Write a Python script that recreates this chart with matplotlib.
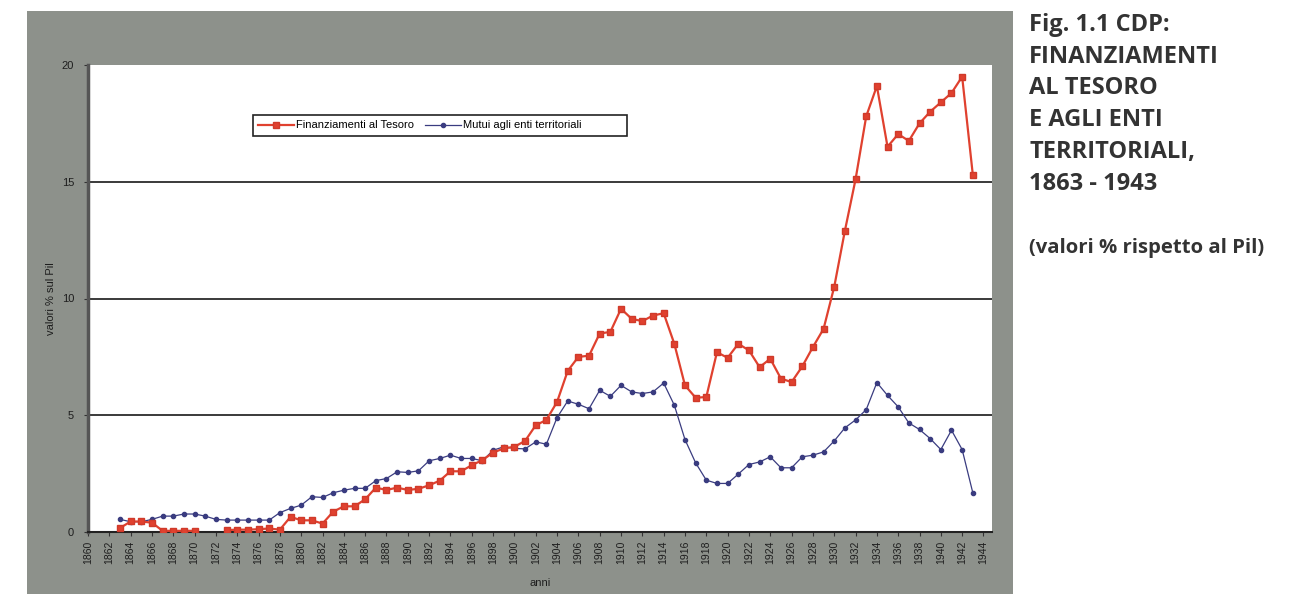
import matplotlib.pyplot as plt
import numpy as np
from matplotlib.patches import Rectangle

# Anni e serie (valori % rispetto al Pil)
anni = list(range(1863, 1944))

finanziamenti_tesoro = [
    0.17, 0.45, 0.45, 0.40, 0.05, 0.05, 0.05, 0.05, np.nan, np.nan,   # 1863-1872
    0.08, 0.10, 0.10, 0.12, 0.15, 0.10, 0.65, 0.50, 0.50, 0.36,       # 1873-1882
    0.87, 1.10, 1.10, 1.40, 1.90, 1.80, 1.90, 1.80, 1.85, 2.00,       # 1883-1892
    2.20, 2.60, 2.60, 2.86, 3.08, 3.40, 3.58, 3.65, 3.90, 4.57,       # 1893-1902
    4.80, 5.57, 6.90, 7.50, 7.55, 8.50, 8.57, 9.56, 9.13, 9.03,       # 1903-1912
    9.27, 9.37, 8.06, 6.28, 5.75, 5.78, 7.70, 7.46, 8.06, 7.78,       # 1913-1922
    7.06, 7.42, 6.57, 6.42, 7.09, 7.92, 8.70, 10.50, 12.90, 15.10,    # 1923-1932
    17.80, 19.10, 16.50, 17.04, 16.75, 17.50, 18.00, 18.40, 18.80, 19.50,  # 1933-1942
    15.30,                                                            # 1943
]

mutui_enti = [
    0.54, 0.44, 0.44, 0.54, 0.68, 0.68, 0.77, 0.77, 0.68, 0.54,       # 1863-1872
    0.51, 0.51, 0.51, 0.51, 0.51, 0.83, 1.01, 1.15, 1.51, 1.48,       # 1873-1882
    1.68, 1.79, 1.87, 1.87, 2.20, 2.29, 2.58, 2.55, 2.62, 3.05,       # 1883-1892
    3.15, 3.29, 3.15, 3.15, 3.05, 3.50, 3.65, 3.58, 3.56, 3.86,       # 1893-1902
    3.76, 4.90, 5.61, 5.47, 5.28, 6.07, 5.81, 6.28, 6.00, 5.93,       # 1903-1912
    6.00, 6.38, 5.43, 3.96, 2.96, 2.22, 2.08, 2.08, 2.48, 2.89,       # 1913-1922
    3.00, 3.22, 2.75, 2.75, 3.22, 3.29, 3.43, 3.90, 4.46, 4.80,       # 1923-1932
    5.24, 6.40, 5.85, 5.36, 4.67, 4.39, 4.00, 3.53, 4.36, 3.53,       # 1933-1942
    1.68,                                                             # 1943
]

etichette_x = list(range(1860, 1945, 2))
etichette_y = [0, 5, 10, 15, 20]

titolo = ("Fig. 1.1 CDP:\nFINANZIAMENTI\nAL TESORO\nE AGLI ENTI\n"
          "TERRITORIALI,\n1863 - 1943")
sottotitolo = "(valori % rispetto al Pil)"

W, H = 1293, 594
plt.rcParams['font.family'] = ['Liberation Sans', 'DejaVu Sans']

fig = plt.figure(figsize=(W / 100, H / 100), dpi=100, facecolor='white')

# pannello grigio dietro al grafico
fig.patches.append(Rectangle((27 / W, 0), (1013 - 27) / W, (H - 11) / H,
                             transform=fig.transFigure, facecolor='#8d918b',
                             edgecolor='none', zorder=-10))

ax = fig.add_axes([88 / W, 1 - 532 / H, (992 - 88) / W, (532 - 65) / H])
ax.set_zorder(1)
ax.set_facecolor('white')

ax.plot(anni, finanziamenti_tesoro, color='#e0412f', lw=1.6, marker='s',
        ms=5, mfc='#e0412f', mec='#d03a2a', label='Finanziamenti al Tesoro',
        zorder=4)
ax.plot(anni, mutui_enti, color='#3a3c80', lw=0.9, marker='o', ms=3,
        mfc='#3a3c80', mec='#3a3c80', label='Mutui agli enti territoriali',
        zorder=3)

ax.set_xlim(1860, 1944.8)
ax.set_ylim(0, 20)
ax.set_xticks(etichette_x)
ax.set_xticklabels([str(a) for a in etichette_x], rotation=90, fontsize=7.5,
                   color='#1e1e1e')
ax.set_yticks(etichette_y)
ax.set_yticklabels([str(v) for v in etichette_y], fontsize=8, color='#1e1e1e')
ax.tick_params(axis='both', direction='out', length=3, width=0.8,
               color='#333333')
ax.tick_params(axis='x', pad=3)
ax.tick_params(axis='y', pad=7)

for v in [5, 10, 15]:
    ax.axhline(v, color='#3a3a3a', lw=1.4, zorder=1)

for s in ['top', 'right']:
    ax.spines[s].set_visible(False)
ax.spines['left'].set_color('#555555')
ax.spines['left'].set_linewidth(2.5)
ax.spines['bottom'].set_color('#222222')
ax.spines['bottom'].set_linewidth(1.5)

ax.set_xlabel('anni', fontsize=8, color='#1e1e1e', labelpad=10)
ax.set_ylabel('valori % sul Pil', fontsize=8, color='#1e1e1e', labelpad=4)

# legenda senza cornice + riquadro come nell'originale
ax.add_patch(Rectangle((253 / W, 1 - 136 / H), (627 - 253) / W, 21 / H,
                       transform=fig.transFigure, facecolor='white',
                       edgecolor='#222222', lw=1.2, zorder=6))
leg = ax.legend(loc='center left', bbox_to_anchor=(256 / W, 1 - 125.5 / H),
                bbox_transform=fig.transFigure, ncol=2, fontsize=8,
                frameon=False, handlelength=3.2, columnspacing=1.0,
                borderpad=0.2, handletextpad=0.2, borderaxespad=0)
leg.set_zorder(7)

fig.text(1029 / W, 1 - 13 / H, titolo, ha='left', va='top', fontsize=17,
         fontweight='bold', color='#333333', family='Open Sans',
         linespacing=1.43)
fig.text(1029 / W, 1 - 248 / H, sottotitolo, ha='left', va='center',
         fontsize=14.6, fontweight='bold', color='#333333', family='Open Sans')

fig.savefig('out.png', dpi=100, facecolor='white')
